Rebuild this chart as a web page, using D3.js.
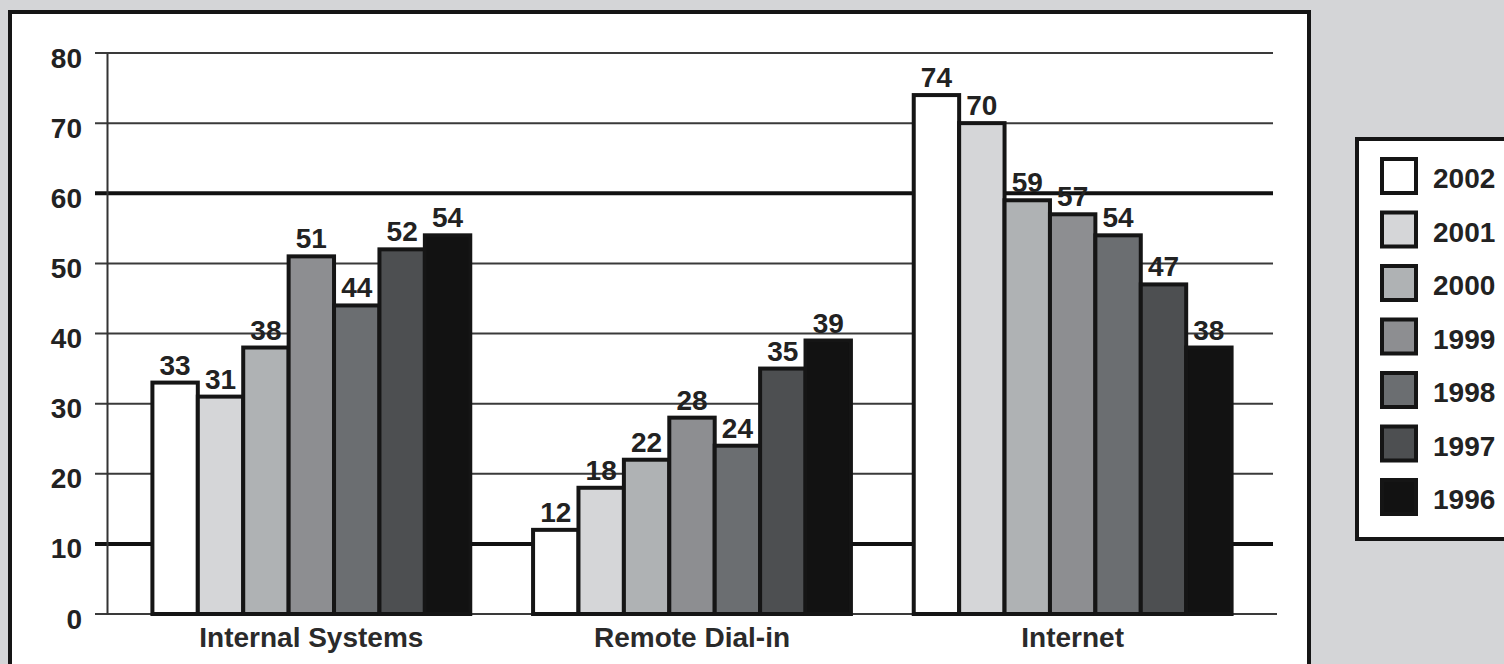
<!DOCTYPE html>
<html>
<head>
<meta charset="utf-8">
<script src="https://cdn.jsdelivr.net/npm/d3@7"></script>
<style>
  html, body { margin: 0; padding: 0; background: #d4d5d7; }
  svg { display: block; font-family: "Liberation Sans", Arial, sans-serif; }
</style>
</head>
<body>
<svg id="chart" width="1504" height="664"></svg>
<script>
// data
const categories = ["Internal Systems", "Remote Dial-in", "Internet"]
const years = ["2002", "2001", "2000", "1999", "1998", "1997", "1996"]
const internalSystems = [33, 31, 38, 51, 44, 52, 54]
const remoteDialIn = [12, 18, 22, 28, 24, 35, 39]
const internet = [74, 70, 59, 57, 54, 47, 38]
const yTicks = [0, 10, 20, 30, 40, 50, 60, 70, 80]
const boldTicks = [10, 60]
const colors = ["#ffffff", "#d5d6d8", "#afb2b4", "#8d8e91", "#6b6e71", "#4d4f51", "#121212"]

const seriesByCat = [internalSystems, remoteDialIn, internet]
const rows = categories.map((c, ci) => ({
    cat: c,
    values: years.map((y, yi) => ({ year: y, value: seriesByCat[ci][yi], color: colors[yi] }))
}))

const svg = d3.select('#chart')

// white panel
svg.append('rect')
    .attr('x', 10).attr('y', 12)
    .attr('width', 1299).attr('height', 700)
    .attr('fill', '#fff')
    .attr('stroke', '#151515')
    .attr('stroke-width', 4)

// scales
const yScale = d3.scaleLinear().domain([0, 80]).range([614, 53])
const x0 = d3.scaleBand().domain(categories).range([121, 1263])
    .paddingInner(0.165).paddingOuter(0.0825)
const x1 = d3.scaleBand().domain(years).range([0, x0.bandwidth()])

// grid lines
svg.append('g')
    .selectAll('line')
    .data(yTicks)
    .enter()
    .append('line')
    .attr('x1', 95)
    .attr('x2', d => d === 0 ? 1277 : 1273)
    .attr('y1', d => yScale(d))
    .attr('y2', d => yScale(d))
    .attr('stroke', d => boldTicks.includes(d) ? '#111' : '#3a3a3a')
    .attr('stroke-width', d => boldTicks.includes(d) ? 4 : 2)

// y axis
const yAxis = d3.axisLeft(yScale)
    .tickValues(yTicks)
    .tickSize(0)
    .tickSizeOuter(0)
    .tickPadding(25)

const yG = svg.append('g')
    .attr('transform', 'translate(107,0)')
    .call(yAxis)
yG.select('.domain').attr('stroke', '#333').attr('stroke-width', 2)
yG.selectAll('.tick text')
    .attr('font-size', 28)
    .attr('font-weight', 'bold')
    .attr('fill', '#222')
    .attr('dy', '0.5em')

// bars
const groups = svg.append('g')
    .selectAll('g')
    .data(rows)
    .enter()
    .append('g')
    .attr('transform', d => `translate(${x0(d.cat)},0)`)

groups.selectAll('rect')
    .data(d => d.values)
    .enter()
    .append('rect')
    .attr('x', d => x1(d.year))
    .attr('y', d => yScale(d.value))
    .attr('width', x1.bandwidth())
    .attr('height', d => yScale(0) - yScale(d.value))
    .attr('fill', d => d.color)
    .attr('stroke', '#151515')
    .attr('stroke-width', 4)

groups.selectAll('text')
    .data(d => d.values)
    .enter()
    .append('text')
    .attr('x', d => x1(d.year) + x1.bandwidth() / 2)
    .attr('y', d => yScale(d.value) - 8)
    .attr('text-anchor', 'middle')
    .attr('font-size', 28)
    .attr('font-weight', 'bold')
    .attr('fill', '#222')
    .text(d => d.value)

// category axis
const xAxis = d3.axisBottom(x0).tickSize(0).tickPadding(13)
const xG = svg.append('g')
    .attr('transform', `translate(0,${yScale(0)})`)
    .call(xAxis)
xG.select('.domain').remove()
xG.selectAll('.tick text')
    .attr('font-size', 28)
    .attr('font-weight', 'bold')
    .attr('fill', '#2a2a2a')

// legend
const legend = svg.append('g')
legend.append('rect')
    .attr('x', 1357).attr('y', 139)
    .attr('width', 200).attr('height', 400)
    .attr('fill', '#fff')
    .attr('stroke', '#151515')
    .attr('stroke-width', 4)

const legendItems = legend.selectAll('g')
    .data(years)
    .enter()
    .append('g')
    .attr('transform', (d, i) => `translate(1382,${159 + i * 53.5})`)

legendItems.append('rect')
    .attr('width', 34).attr('height', 34)
    .attr('fill', (d, i) => colors[i])
    .attr('stroke', '#151515')
    .attr('stroke-width', 4)

legendItems.append('text')
    .attr('x', 51)
    .attr('y', 29)
    .attr('font-size', 28)
    .attr('font-weight', 'bold')
    .attr('fill', '#222')
    .text(d => d)
</script>
</body>
</html>
